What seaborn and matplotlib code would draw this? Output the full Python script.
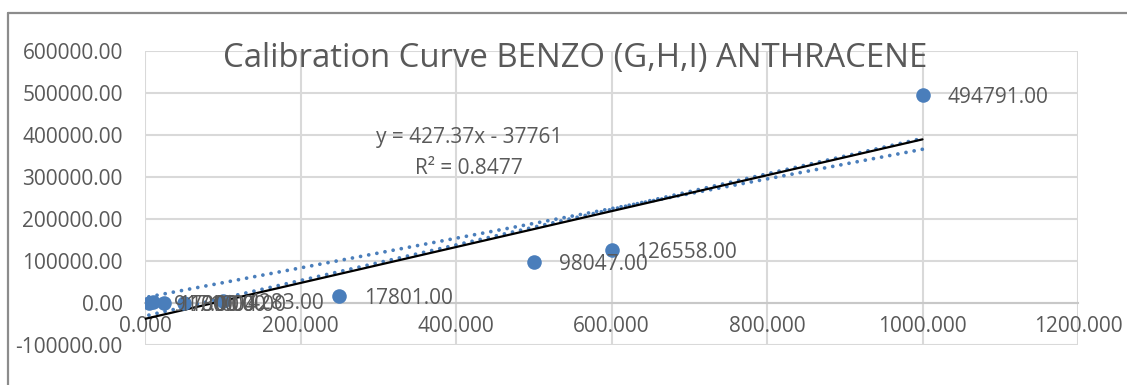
import matplotlib
matplotlib.use("Agg")
import matplotlib.pyplot as plt
import seaborn as sns
import numpy as np
import pandas as pd
from matplotlib.lines import Line2D
from matplotlib.ticker import FuncFormatter

# ---- data ----
concentration = [5, 10, 25, 50, 100, 250, 500, 600, 1000]
response = [917.0, 1730.0, 1000.0, 1004.0, 4283.0, 17801.0, 98047.0, 126558.0, 494791.0]
point_labels = ["917.00", "1730.00", "1000.00", "1004.00", "4283.00",
                "17801.00", "98047.00", "126558.00", "494791.00"]

# trendline shown with equation (black solid)
fit_slope = 427.37
fit_intercept = -37761.0
fit_x = [0, 1000]
# dotted blue trendline lying along the black one
lower_dotted_slope = 423.0
lower_dotted_intercept = -31000.0
# dotted blue trendline crossing the black one
upper_dotted_slope = 353.0
upper_dotted_intercept = 13000.0
dotted_x = [5, 1000]

title = "Calibration Curve BENZO (G,H,I) ANTHRACENE"
equation = "y = 427.37x - 37761"
r2_text = "R² = 0.8477"

x_ticks = [0, 200, 400, 600, 800, 1000, 1200]
y_ticks = [-100000, 0, 100000, 200000, 300000, 400000, 500000, 600000]

# ---- style ----
sns.set_theme(style="white")
plt.rcParams['font.family'] = ['Open Sans', 'DejaVu Sans']
text_color = "#595959"
blue = "#4a7ebb"
grid_color = "#d9d9d9"

fig = plt.figure(figsize=(11.27, 3.85), dpi=100)
ax = fig.add_axes([145 / 1127, 1 - 345 / 385, (1078 - 145) / 1127, (345 - 51) / 385])

df = pd.DataFrame({"x": concentration, "y": response})
fit_df = pd.DataFrame({"x": fit_x, "y": [fit_slope * v + fit_intercept for v in fit_x]})
low_df = pd.DataFrame({"x": dotted_x,
                       "y": [lower_dotted_slope * v + lower_dotted_intercept for v in dotted_x]})
up_df = pd.DataFrame({"x": dotted_x,
                      "y": [upper_dotted_slope * v + upper_dotted_intercept for v in dotted_x]})

dot_style = dict(color=blue, linewidth=2.7, linestyle=(0, (0.01, 2.2)),
                 dash_capstyle="round", zorder=3)
sns.lineplot(data=up_df, x="x", y="y", ax=ax, **dot_style)
sns.lineplot(data=low_df, x="x", y="y", ax=ax, **dot_style)
sns.lineplot(data=fit_df, x="x", y="y", ax=ax, color="black", linewidth=1.6, zorder=4)
sns.scatterplot(data=df, x="x", y="y", ax=ax, color=blue, s=110, edgecolor=blue,
                linewidth=0, zorder=5)

for xv, yv, lab in zip(concentration, response, point_labels):
    ax.annotate(lab, (xv, yv), xytext=(18, -2), textcoords="offset points",
                ha="left", va="center", fontsize=15, color=text_color, zorder=6)

ax.set_xlim(0, 1200)
ax.set_ylim(-100000, 600000)
ax.set_xticks(x_ticks)
ax.set_yticks(y_ticks)
ax.xaxis.set_major_formatter(FuncFormatter(lambda v, p: f"{v:.3f}"))
ax.yaxis.set_major_formatter(FuncFormatter(lambda v, p: f"{v:.2f}"))
ax.grid(True, color=grid_color, linewidth=1.5)
ax.set_axisbelow(True)
for s in ["top", "right", "left"]:
    ax.spines[s].set_visible(False)
ax.spines["bottom"].set_position(("data", 0))
ax.spines["bottom"].set_color("#c8c8c8")
ax.spines["bottom"].set_linewidth(1.5)
ax.tick_params(axis="both", length=0, labelsize=15, labelcolor=text_color)
ax.tick_params(axis="y", pad=16)
ax.tick_params(axis="x", pad=9)
ax.set_xlabel("")
ax.set_ylabel("")
for lbl in ax.get_xticklabels():
    lbl.set_zorder(7)

fig.text(575 / 1127, 1 - 59 / 385, title, ha="center", va="center",
         fontsize=23.7, color=text_color)
fig.text(469 / 1127, 1 - 138 / 385, equation, ha="center", va="center",
         fontsize=15, color=text_color)
fig.text(469 / 1127, 1 - 169 / 385, r2_text, ha="center", va="center",
         fontsize=15, color=text_color)

# chart frame (top and left edges visible)
fig.add_artist(Line2D([8 / 1127, 1.0], [1 - 13 / 385, 1 - 13 / 385],
                      transform=fig.transFigure, color="#8c8c8c", linewidth=1.6))
fig.add_artist(Line2D([8 / 1127, 8 / 1127], [0.0, 1 - 13 / 385],
                      transform=fig.transFigure, color="#8c8c8c", linewidth=1.6))

fig.savefig("out.png", dpi=100)
